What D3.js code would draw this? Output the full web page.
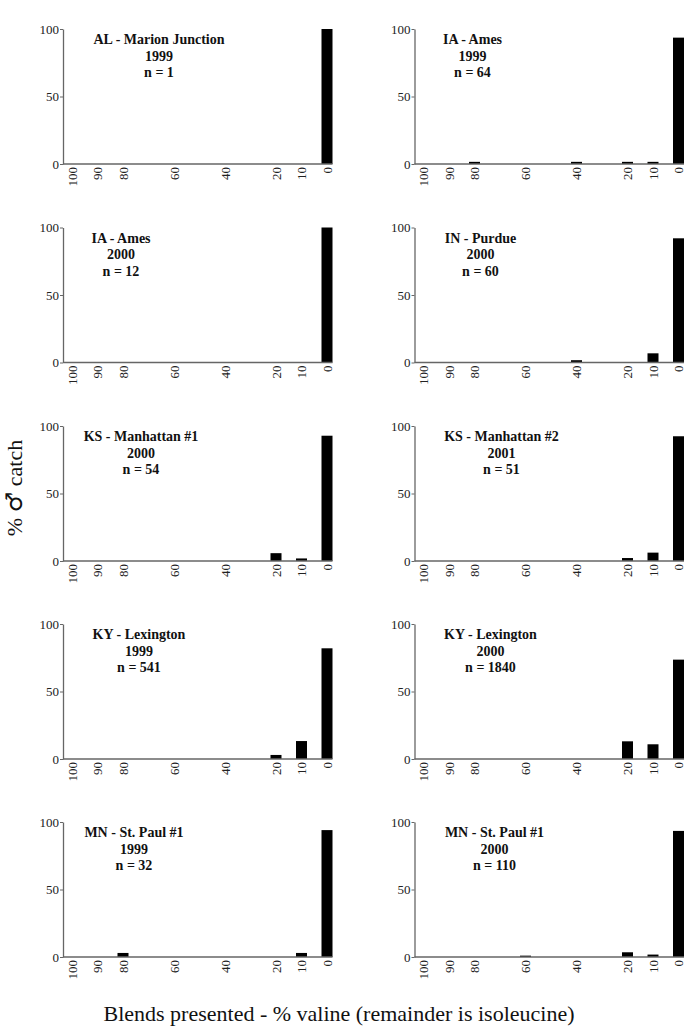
<!DOCTYPE html>
<html>
<head>
<meta charset="utf-8">
<script src="https://cdn.jsdelivr.net/npm/d3@7"></script>
<style>
  html, body { margin: 0; padding: 0; background: #fff; }
  svg { display: block; }
</style>
</head>
<body>
<script>
// ---- data ----
const blends = [100, 90, 80, 60, 40, 20, 10, 0];
const yTicks = [0, 50, 100];
const sites = ["AL - Marion Junction", "IA - Ames", "IA - Ames", "IN - Purdue", "KS - Manhattan #1",
               "KS - Manhattan #2", "KY - Lexington", "KY - Lexington", "MN - St. Paul #1", "MN - St. Paul #1"];
const years = ["1999", "1999", "2000", "2000", "2000", "2001", "1999", "2000", "1999", "2000"];
const nValues = ["1", "64", "12", "60", "54", "51", "541", "1840", "32", "110"];
// % male catch per blend (order of blends array)
const catchAL1999   = [0, 0, 0,   0,   0,   0,   0,   100];
const catchIA1999   = [0, 0, 1.6, 0,   1.6, 1.6, 1.6, 93.6];
const catchIA2000   = [0, 0, 0,   0,   0,   0,   0,   100];
const catchIN2000   = [0, 0, 0,   0,   1.7, 0,   6.8, 92];
const catchKS1_2000 = [0, 0, 0,   0,   0,   5.8, 1.9, 92.8];
const catchKS2_2001 = [0, 0, 0,   0,   0,   2.2, 6.2, 92.4];
const catchKY1999   = [0, 0, 0,   0,   0,   3,   13.3, 82];
const catchKY2000   = [0, 0, 0,   0,   0,   13.1, 10.9, 73.6];
const catchMN1999   = [0, 0, 3,   0,   0,   0,   3,   94];
const catchMN2000   = [0, 0, 0,   1,   0,   3.5, 1.8, 93.4];
const allSeries = [catchAL1999, catchIA1999, catchIA2000, catchIN2000, catchKS1_2000,
                   catchKS2_2001, catchKY1999, catchKY2000, catchMN1999, catchMN2000];
const yLabelParts = ["% ", "\u2642", " catch"];
const xLabel = "Blends presented - % valine (remainder is isoleucine)";

// ---- layout ----
const W = 686, H = 1027;
const colX = [63, 414.5];
const rowTop = [29, 227.5, 426, 624, 822];
const plotH = 135;
const barW = 11;
const titleCx = [96, 58, 58, 66, 78, 87, 76, 76, 71, 80]; // title centre offset from y-axis
const serif = "'Liberation Serif', 'Times New Roman', serif";

const svg = d3.select("body").append("svg").attr("width", W).attr("height", H)
  .style("font-family", serif);

allSeries.forEach((vals, i) => {
  const col = i % 2, row = Math.floor(i / 2);
  const ax = colX[col], top = rowTop[row];
  const g = svg.append("g").attr("transform", `translate(${ax},${top})`);

  const x = d3.scaleLinear().domain([100, 0]).range([9, 264]);
  const y = d3.scaleLinear().domain([0, 100]).range([plotH, 0]);

  // bars
  g.selectAll("rect.bar").data(blends.map((b, k) => ({b, v: vals[k]})).filter(d => d.v > 0))
    .enter().append("rect")
    .attr("x", d => x(d.b) - barW / 2)
    .attr("y", d => y(d.v))
    .attr("width", barW)
    .attr("height", d => plotH - y(d.v))
    .attr("fill", "#000");

  // y axis
  const ya = g.append("g").call(d3.axisLeft(y).tickValues(yTicks).tickSize(3).tickSizeOuter(0).tickPadding(1));
  ya.attr("font-family", null);
  ya.select(".domain").attr("stroke", "#666").attr("stroke-width", 1.3);
  ya.selectAll(".tick line").attr("stroke", "#666");
  ya.selectAll(".tick text").attr("fill", "#222").style("font-size", "13px").style("font-family", serif);

  // baseline
  g.append("line").attr("x1", 0).attr("x2", x(0) + barW / 2)
    .attr("y1", plotH).attr("y2", plotH).attr("stroke", "#666").attr("stroke-width", 1.3);

  // x axis labels
  const xa = g.append("g").attr("transform", `translate(0,${plotH})`)
    .call(d3.axisBottom(x).tickValues(blends).tickSize(0).tickFormat(d3.format("d")));
  xa.attr("font-family", null);
  xa.select(".domain").remove();
  xa.selectAll(".tick text")
    .attr("transform", "rotate(-90)")
    .attr("x", -3).attr("y", 0).attr("dy", "0.33em")
    .attr("text-anchor", "end")
    .attr("fill", "#222")
    .style("font-size", "13px").style("font-family", serif);

  // title
  const t = g.append("text").attr("text-anchor", "middle")
    .style("font-size", "14px").style("font-weight", "bold").attr("fill", "#111");
  [sites[i], years[i], "n = " + nValues[i]].forEach((s, k) => {
    t.append("tspan").attr("x", titleCx[i]).attr("y", 15 + k * 16.5).text(s);
  });
});

// axis titles
const yl = svg.append("text").attr("transform", "translate(22,488) rotate(-90)")
  .attr("text-anchor", "middle").style("font-size", "22px").attr("fill", "#111");
yl.append("tspan").text(yLabelParts[0]);
yl.append("tspan").style("font-family", "'DejaVu Sans', sans-serif").style("font-size", "23px")
  .text(yLabelParts[1]);
yl.append("tspan").text(yLabelParts[2]);

svg.append("text").attr("x", 339).attr("y", 1021)
  .attr("text-anchor", "middle").style("font-size", "22px").attr("fill", "#111").text(xLabel);
</script>
</body>
</html>
